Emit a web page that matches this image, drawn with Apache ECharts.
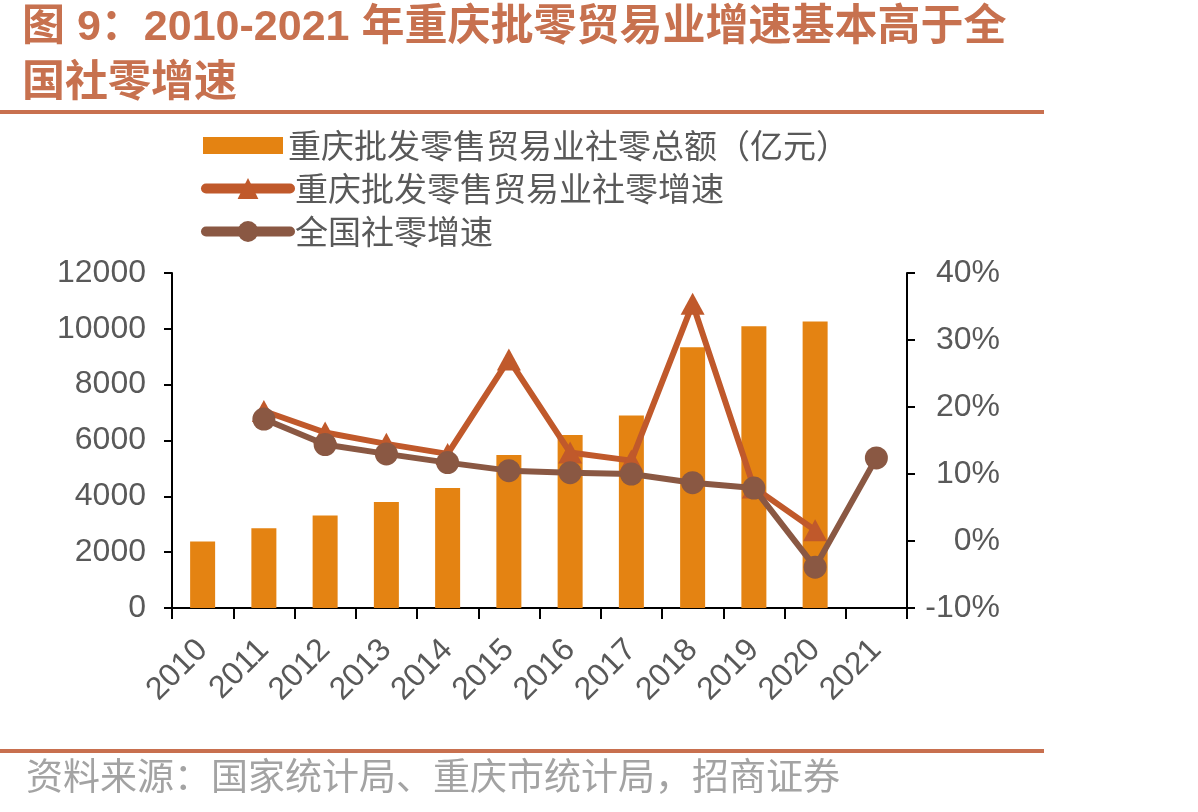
<!DOCTYPE html>
<html>
<head>
<meta charset="utf-8">
<script src="https://cdn.jsdelivr.net/npm/echarts@6/dist/echarts.min.js"></script>
<style>
html,body{margin:0;padding:0;background:#fff;}
#chart{width:1198px;height:812px;}
</style>
</head>
<body>
<div id="chart"></div>
<script>
const years = ['2010','2011','2012','2013','2014','2015','2016','2017','2018','2019','2020','2021'];
const cqRetailTotal = [2380, 2860, 3310, 3800, 4300, 5480, 6200, 6900, 9340, 10090, 10260, null];
const cqGrowth = [null, 19.4, 16.2, 14.5, 13.0, 27.1, 13.2, 12.0, 35.4, 8.0, 1.6, null];
const nationalGrowth = [null, 18.2, 14.4, 13.0, 11.7, 10.5, 10.2, 10.0, 8.7, 7.9, -3.9, 12.4];
const leftTicks = {min: 0, max: 12000, interval: 2000};
const rightTicks = {min: -10, max: 40, interval: 10};
const names = ['重庆批发零售贸易业社零总额（亿元）', '重庆批发零售贸易业社零增速', '全国社零增速'];

const chart = echarts.init(document.getElementById('chart'), null, {renderer: 'canvas'});
const axisColor = '#000';
const labelColor = '#595959';
const legendText = {fontFamily: '"Noto Sans CJK SC"', fontSize: 33, color: labelColor, lineHeight: 33};
const option = {
  animation: false,
  backgroundColor: '#fff',
  graphic: [
    {type: 'text', left: 22, top: 7, style: {text: '图 9：2010-2021 年重庆批零贸易业增速基本高于全', fill: '#C7714F', font: 'bold 43px "Liberation Sans", "Noto Sans CJK SC"'}},
    {type: 'text', left: 22, top: 58, style: {text: '国社零增速', fill: '#C7714F', font: 'bold 43px "Noto Sans CJK SC"'}},
    {type: 'rect', shape: {x: 0, y: 110, width: 1044, height: 4}, style: {fill: '#C8704F'}},
    {type: 'rect', shape: {x: 0, y: 749, width: 1044, height: 4}, style: {fill: '#C8704F'}},
    {type: 'text', left: 26, top: 757, style: {text: '资料来源：国家统计局、重庆市统计局，招商证券', fill: '#A3A3A3', font: '37px "Noto Sans CJK SC"'}}
  ],
  legend: [
    {
      orient: 'vertical', left: 203, top: 129, padding: 0,
      itemWidth: 80, itemHeight: 17, itemGap: 10,
      textStyle: legendText,
      data: [{name: names[0], icon: 'rect'}]
    },
    {
      orient: 'vertical', left: 201, top: 172, padding: 0,
      itemWidth: 84, itemHeight: 26, itemGap: 10,
      textStyle: legendText,
      data: [
        {name: names[1], lineStyle: {width: 10, cap: 'round'}},
        {name: names[2], lineStyle: {width: 10, cap: 'round'}}
      ]
    }
  ],
  grid: {left: 172, right: 291, top: 273, bottom: 204},
  xAxis: {
    type: 'category',
    data: years,
    boundaryGap: true,
    axisLine: {show: true, lineStyle: {color: axisColor, width: 2}},
    axisTick: {show: true, length: 11, lineStyle: {color: axisColor, width: 2}},
    axisLabel: {rotate: 45, margin: 37, color: labelColor, fontSize: 32, fontFamily: '"Liberation Sans", Arial'},
    splitLine: {show: false}
  },
  yAxis: [
    {
      type: 'value', position: 'left', min: leftTicks.min, max: leftTicks.max, interval: leftTicks.interval,
      axisLine: {show: true, lineStyle: {color: axisColor, width: 2}},
      axisTick: {show: true, length: 8, lineStyle: {color: axisColor, width: 2}},
      axisLabel: {margin: 26, color: labelColor, fontSize: 32, fontFamily: '"Liberation Sans", Arial', formatter: v => String(v)},
      splitLine: {show: false}
    },
    {
      type: 'value', position: 'right', min: rightTicks.min, max: rightTicks.max, interval: rightTicks.interval,
      axisLine: {show: true, lineStyle: {color: axisColor, width: 2}},
      axisTick: {show: true, length: 8, lineStyle: {color: axisColor, width: 2}},
      axisLabel: {margin: 93, align: 'right', formatter: '{value}%', color: labelColor, fontSize: 32, fontFamily: '"Liberation Sans", Arial'},
      splitLine: {show: false}
    }
  ],
  series: [
    {
      name: names[0], type: 'bar', yAxisIndex: 0, data: cqRetailTotal, barWidth: 25,
      itemStyle: {color: '#E48312'}, z: 1
    },
    {
      name: names[1], type: 'line', yAxisIndex: 1, data: cqGrowth, connectNulls: false,
      symbol: 'triangle', symbolSize: [24, 22], showSymbol: true,
      lineStyle: {color: '#C0592B', width: 6}, itemStyle: {color: '#C0592B'}, z: 3
    },
    {
      name: names[2], type: 'line', yAxisIndex: 1, data: nationalGrowth,
      symbol: 'circle', symbolSize: 23, showSymbol: true,
      lineStyle: {color: '#8A5843', width: 6}, itemStyle: {color: '#8A5843'}, z: 4
    }
  ]
};
chart.setOption(option);
</script>
</body>
</html>
